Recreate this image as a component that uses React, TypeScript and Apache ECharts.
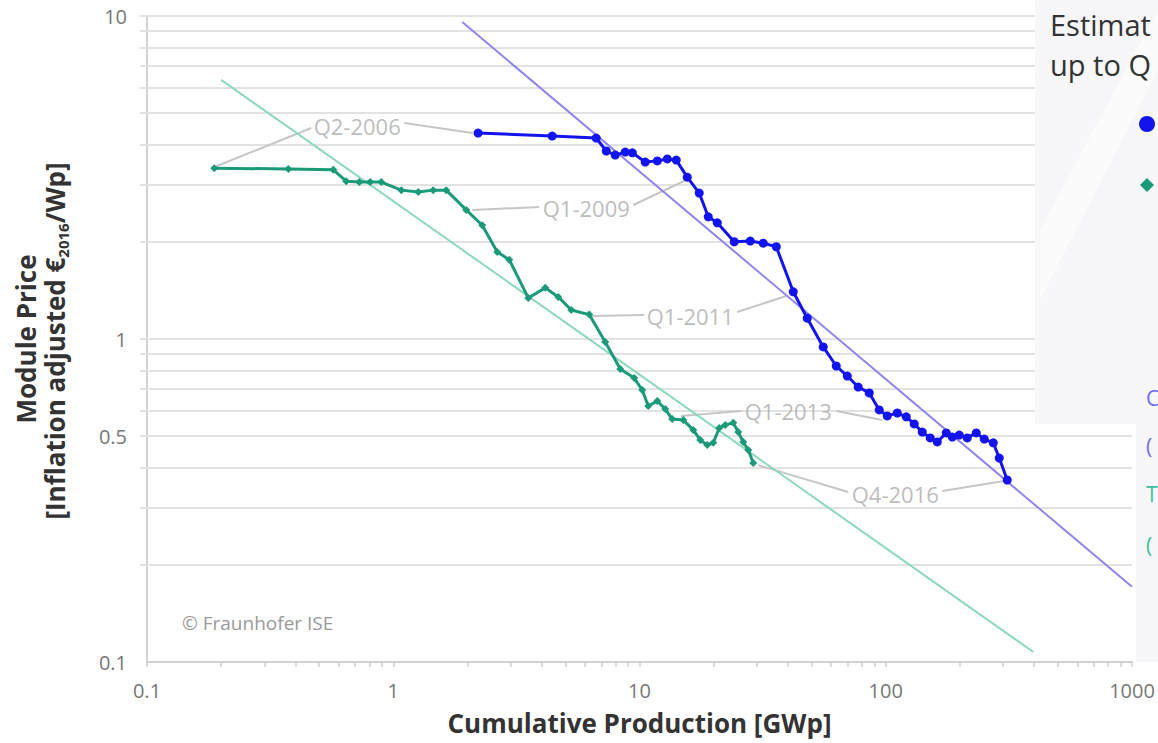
import React, { useEffect, useRef } from "react";
import * as echarts from "echarts";

// ---- Data ----
const cSiX = [2.21, 4.42, 6.67, 7.33, 7.97, 8.75, 9.35, 10.55, 11.81, 12.97, 14.1, 15.63, 17.48, 19.02, 20.69, 24.25, 28.17, 31.8, 35.93, 42.11, 47.99, 55.74, 62.95, 69.79, 77.3, 85.7, 94.1, 101.4, 111.4, 121.1, 130.5, 140.7, 151.6, 161.9, 176.1, 186.3, 198.8, 214.3, 233.1, 251.2, 273.3, 289.0, 311.4];
const cSiY = [4.34, 4.25, 4.19, 3.82, 3.71, 3.79, 3.77, 3.53, 3.56, 3.61, 3.58, 3.17, 2.83, 2.39, 2.29, 2.0, 2.01, 1.98, 1.93, 1.4, 1.16, 0.945, 0.825, 0.768, 0.71, 0.681, 0.603, 0.578, 0.59, 0.574, 0.546, 0.515, 0.494, 0.48, 0.512, 0.497, 0.504, 0.494, 0.512, 0.49, 0.477, 0.428, 0.366];

const tfX = [0.1875, 0.375, 0.571, 0.644, 0.728, 0.806, 0.894, 1.078, 1.264, 1.453, 1.641, 1.979, 2.298, 2.645, 2.959, 3.534, 4.143, 4.677, 5.283, 6.251, 7.26, 8.354, 9.521, 10.26, 10.85, 11.81, 12.72, 13.58, 15.06, 16.53, 17.65, 18.84, 19.93, 21.08, 22.29, 24.03, 25.18, 26.38, 27.65, 28.97];
const tfY = [3.38, 3.36, 3.34, 3.08, 3.06, 3.06, 3.06, 2.89, 2.85, 2.89, 2.89, 2.51, 2.25, 1.86, 1.76, 1.34, 1.44, 1.35, 1.23, 1.19, 0.979, 0.807, 0.757, 0.695, 0.62, 0.643, 0.607, 0.565, 0.561, 0.523, 0.487, 0.47, 0.477, 0.53, 0.542, 0.55, 0.515, 0.48, 0.453, 0.413];

const cSiTrendX = [1.906, 1000];
const cSiTrendY = [9.58, 0.171];
const tfTrendX = [0.2001, 397.2];
const tfTrendY = [6.34, 0.1074];

const annoLabels = ["Q2-2006", "Q1-2009", "Q1-2011", "Q1-2013", "Q4-2016"];
const annoX = [0.714, 6.08, 16.07, 40.18, 109.3];
const annoY = [4.565, 2.544, 1.178, 0.5985, 0.331];
// leader segments: [x1, y1, x2, y2]
const annoLeaders = [
  [0.4645, 4.5, 0.19, 3.42],
  [1.108, 4.665, 2.1, 4.34],
  [3.916, 2.563, 2.094, 2.508],
  [9.433, 2.599, 15.48, 3.107],
  [10.45, 1.187, 6.43, 1.178],
  [24.95, 1.212, 39.45, 1.359],
  [25.9, 0.5985, 14.77, 0.578],
  [62.95, 0.5985, 96.8, 0.561],
  [70.4, 0.336, 30.35, 0.407],
  [169.6, 0.3384, 302.9, 0.3634],
];

const yGridValues = [0.2, 0.3, 0.4, 0.5, 0.6, 0.7, 0.8, 0.9, 1, 2, 3, 4, 5, 6, 7, 8, 9, 10];
const yLabelValues = [0.1, 0.5, 1, 10];
const xDecades = [0.1, 1, 10, 100];
const xTickMultipliers = [1, 2, 3, 4, 5, 6, 7, 8, 9];

// legend fragments visible in the (cropped) reference
const legendTitle = ["Estimat", "up to Q"];
const legendNotes = ["C", "(", "T", "("];

const X_MIN = 0.1, X_MAX = 1000, Y_MIN = 0.1, Y_MAX = 10;
const Y_TICK_START_X = 0.0937;
const X_TICK_END_Y = 0.0965;

const FONT = '"Open Sans", "Noto Sans", sans-serif';
const C_SI = "#1313ee";
const TF = "#1b9a7a";

export default function App() {
  const ref = useRef<HTMLDivElement>(null);
  useEffect(() => {
    if (!ref.current) return;
    const chart = echarts.init(ref.current, undefined, { renderer: "svg" });

    const gridData = yGridValues.map((v) => ({ coords: [[Y_TICK_START_X, v], [X_MAX, v]] }));
    const xTicks: number[] = [];
    xDecades.forEach((d) => xTickMultipliers.forEach((m) => xTicks.push(+(d * m).toPrecision(6))));
    xTicks.push(X_MAX);
    const xTickData = xTicks.map((v) => ({ coords: [[v, Y_MIN], [v, X_TICK_END_Y]] }));
    const leaderData = annoLeaders.map((s) => ({ coords: [[s[0], s[1]], [s[2], s[3]]] }));

    const fmt = (v: number) => String(Number(Number(v).toPrecision(6)));

    const noteColors = ["#6c6cf0", "#6c6cf0", "#3dbf9c", "#3dbf9c"];
    const noteY = [398, 446, 494, 545];

    const option: any = {
      animation: false,
      backgroundColor: "#ffffff",
      textStyle: { fontFamily: FONT },
      grid: { left: 147, right: 26, top: 16, bottom: 81, containLabel: false },
      xAxis: {
        type: "log",
        logBase: 10,
        min: X_MIN,
        max: X_MAX,
        axisLine: { show: true, lineStyle: { color: "#d2d2d2", width: 2 } },
        axisTick: { show: false },
        splitLine: { show: false },
        axisLabel: { color: "#777", fontSize: 20, fontFamily: FONT, margin: 18, formatter: fmt, lineHeight: 20 },
        name: "Cumulative Production [GWp]",
        nameLocation: "middle",
        nameGap: 48,
        nameTextStyle: { color: "#333", fontSize: 26, fontWeight: "bold", fontFamily: FONT, lineHeight: 26 },
      },
      yAxis: {
        type: "log",
        logBase: 10,
        min: Y_MIN,
        max: Y_MAX,
        axisLine: { show: true, lineStyle: { color: "#d2d2d2", width: 2 } },
        axisTick: { show: false },
        splitLine: { show: false },
        axisLabel: { color: "#777", fontSize: 20, fontFamily: FONT, margin: 20, formatter: fmt, customValues: yLabelValues },
      },
      series: [
        {
          name: "grid",
          type: "lines",
          coordinateSystem: "cartesian2d",
          polyline: false,
          clip: false,
          silent: true,
          z: 1,
          lineStyle: { color: "#e2e2e2", width: 2, opacity: 1, curveness: 0 },
          data: gridData,
        },
        {
          name: "xticks",
          type: "lines",
          coordinateSystem: "cartesian2d",
          polyline: false,
          clip: false,
          silent: true,
          z: 1,
          lineStyle: { color: "#cfcfcf", width: 1.5, opacity: 1, curveness: 0 },
          data: xTickData,
        },
        {
          name: "leaders",
          type: "lines",
          coordinateSystem: "cartesian2d",
          polyline: false,
          clip: false,
          silent: true,
          z: 2,
          lineStyle: { color: "#c6c6c6", width: 2, opacity: 1, curveness: 0 },
          data: leaderData,
        },
        {
          name: "c-Si trend",
          type: "line",
          data: cSiTrendX.map((x, i) => [x, cSiTrendY[i]]),
          showSymbol: false,
          symbol: "none",
          z: 3,
          lineStyle: { color: "#8f85ee", width: 2 },
        },
        {
          name: "Thin film trend",
          type: "line",
          data: tfTrendX.map((x, i) => [x, tfTrendY[i]]),
          showSymbol: false,
          symbol: "none",
          z: 3,
          lineStyle: { color: "#8cd8bd", width: 2 },
        },
        {
          name: "Thin Film",
          type: "line",
          data: tfX.map((x, i) => [x, tfY[i]]),
          symbol: "diamond",
          symbolSize: 8,
          z: 4,
          itemStyle: { color: TF },
          lineStyle: { color: TF, width: 3 },
        },
        {
          name: "c-Si",
          type: "line",
          data: cSiX.map((x, i) => [x, cSiY[i]]),
          symbol: "circle",
          symbolSize: 9,
          z: 5,
          itemStyle: { color: C_SI },
          lineStyle: { color: C_SI, width: 3 },
        },
        {
          name: "annotations",
          type: "scatter",
          data: annoX.map((x, i) => ({ value: [x, annoY[i]], name: annoLabels[i] })),
          symbolSize: 1,
          itemStyle: { color: "rgba(0,0,0,0)" },
          silent: true,
          z: 6,
          label: {
            show: true,
            position: "inside",
            formatter: (p: any) => p.name,
            color: "#ababab",
            fontSize: 22,
            fontFamily: FONT,
          },
        },
      ],
      graphic: [
        {
          type: "text",
          x: 26,
          y: 339,
          rotation: Math.PI / 2,
          style: {
            text: "Module Price",
            font: `bold 26px ${FONT}`,
            fill: "#333",
            align: "center",
            verticalAlign: "middle",
          },
        },
        {
          type: "text",
          x: 55,
          y: 341,
          rotation: Math.PI / 2,
          style: {
            text: "{a|[Inflation adjusted €}{s|2016}{a|/Wp]}",
            align: "center",
            verticalAlign: "middle",
            rich: {
              a: { fontSize: 26, fontWeight: "bold", fontFamily: FONT, fill: "#333", lineHeight: 30 },
              s: { fontSize: 15, fontWeight: "bold", fontFamily: FONT, fill: "#333", lineHeight: 16, verticalAlign: "bottom" },
            },
          },
        },
        {
          type: "text",
          left: 182,
          top: 613,
          style: { text: "© Fraunhofer ISE", font: `19px ${FONT}`, fill: "#999" },
        },
        {
          type: "polygon",
          z: 100,
          silent: true,
          shape: { points: [[1035, 0], [1158, 0], [1158, 662], [1136, 662], [1136, 424], [1035, 424]] },
          style: { fill: "#f7f7f9" },
        },
        {
          type: "polygon",
          z: 100,
          silent: true,
          shape: { points: [[1158, 10], [1158, 70], [1040, 300], [1040, 230]] },
          style: { fill: "#fbfbfc" },
        },
        {
          type: "text",
          z: 101,
          x: 1050,
          y: 24,
          style: { text: legendTitle[0], font: `29px ${FONT}`, fill: "#333", verticalAlign: "middle" },
        },
        {
          type: "text",
          z: 101,
          x: 1050,
          y: 64,
          style: { text: legendTitle[1], font: `29px ${FONT}`, fill: "#333", verticalAlign: "middle" },
        },
        { type: "circle", z: 101, shape: { cx: 1147, cy: 124, r: 8 }, style: { fill: C_SI } },
        {
          type: "polygon",
          z: 101,
          shape: { points: [[1147, 178], [1154, 185], [1147, 192], [1140, 185]] },
          style: { fill: TF },
        },
        ...legendNotes.map((t, i) => ({
          type: "text",
          z: 101,
          x: 1146,
          y: noteY[i],
          style: { text: t, font: `21px ${FONT}`, fill: noteColors[i], verticalAlign: "middle" },
        })),
      ],
    };

    chart.setOption(option);
    return () => chart.dispose();
  }, []);

  return (
    <div
      ref={ref}
      style={{ position: "fixed", left: 0, top: 0, width: 1158, height: 743, background: "#fff" }}
    />
  );
}
